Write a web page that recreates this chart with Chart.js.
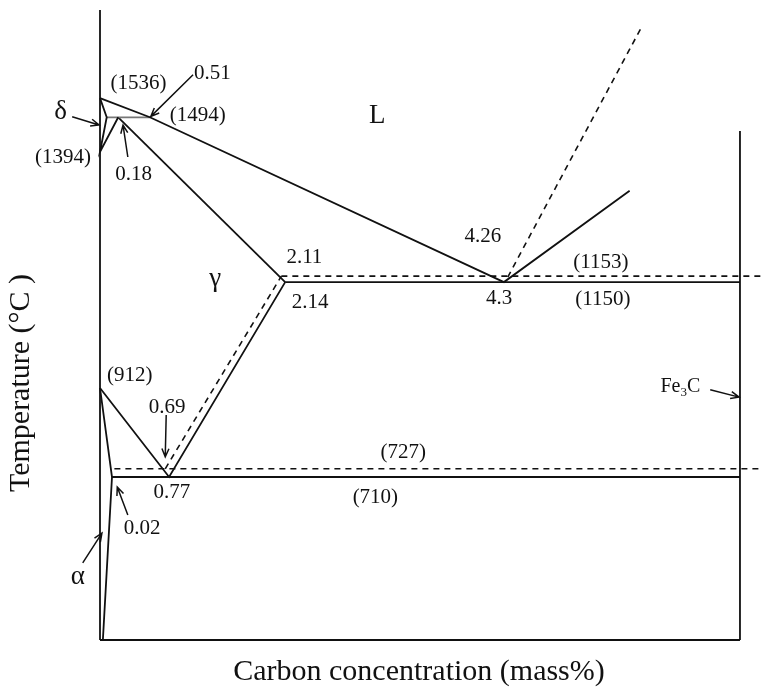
<!DOCTYPE html>
<html>
<head>
<meta charset="utf-8">
<script src="https://cdn.jsdelivr.net/npm/chart.js@4.4.0/dist/chart.umd.min.js"></script>
<style>
html, body { margin: 0; padding: 0; background: #fff; }
canvas { display: block; }
</style>
</head>
<body>
<canvas id="phaseChart" width="763" height="693"></canvas>
<script>
// phase boundaries, points are [carbon mass%, temperature]
const pureIron = [[0, 1730], [0, 350]];
const baseLine = [[0, 350], [6.67, 350]];
const cementite = [[6.67, 1465], [6.67, 350]];
const liquidus = [[0, 1537], [0.52, 1495], [4.21, 1134], [5.52, 1334]];
const deltaField = [[0, 1537], [0.07, 1495], [0, 1419], [0.19, 1495]];
const peritectic = [[0.07, 1495], [0.52, 1495]];
const solidus = [[0.19, 1495], [1.93, 1134]];
const eutectic = [[1.93, 1134], [6.67, 1134]];
const gammaLower = [[0, 902], [0.72, 707], [1.93, 1134]];
const alphaLine = [[0, 902], [0.125, 707], [0.03, 350]];
const eutectoid = [[0.125, 707], [6.67, 707]];

// stable (graphite) system, dashed
const eutecticDash = [[1.89, 1147], [6.91, 1147]];
const eutectoidDash = [[0.15, 725], [6.91, 725]];
const acmDash = [[0.68, 725], [1.89, 1147]];
const graphiteDash = [[4.25, 1145], [5.64, 1691]];

// text labels: [text, x, y]
const labels = [
    ['(1536)', 0.40, 1570], ['0.51', 1.17, 1592], ['(1494)', 1.02, 1500],
    ['(1394)', -0.385, 1406], ['0.18', 0.35, 1369],
    ['2.11', 2.13, 1187], ['2.14', 2.19, 1090],
    ['4.26', 3.99, 1233], ['4.3', 4.16, 1099],
    ['(1153)', 5.22, 1178], ['(1150)', 5.24, 1095],
    ['(912)', 0.31, 930], ['0.69', 0.70, 860],
    ['(727)', 3.16, 760], ['0.77', 0.75, 674], ['(710)', 2.87, 663],
    ['0.02', 0.44, 595]
];
const phaseNames = [['δ', -0.41, 1507], ['L', 2.89, 1498], ['γ', 1.20, 1141], ['α', -0.23, 488]];

// arrows: [x0, y0, x1, y1], tail to head
const arrows = [
    [-0.29, 1496, -0.01, 1478],
    [0.97, 1588, 0.53, 1497],
    [0.29, 1408, 0.24, 1478],
    [0.69, 843, 0.68, 751],
    [0.29, 624, 0.18, 685],
    [-0.18, 519, 0.02, 584],
    [6.36, 898, 6.66, 882]
];

const xTitle = 'Carbon concentration (mass%)';
const yTitle = 'Temperature (°C )';

function line(points, dashed, color) {
    return {
        data: points.map(p => ({ x: p[0], y: p[1] })),
        showLine: true,
        pointRadius: 0,
        borderColor: color || '#111',
        borderWidth: dashed ? 1.6 : 1.8,
        borderDash: dashed ? [6, 5] : [],
        clip: false,
        tension: 0
    };
}

const annotate = {
    id: 'annotate',
    afterDraw(chart) {
        const c = chart.ctx;
        const xs = chart.scales.x, ys = chart.scales.y;
        const px = v => xs.getPixelForValue(v);
        const py = v => ys.getPixelForValue(v);
        c.save();
        c.fillStyle = '#111';
        c.strokeStyle = '#111';
        c.textAlign = 'center';
        c.textBaseline = 'middle';

        c.font = "21px 'Liberation Serif'";
        labels.forEach(l => c.fillText(l[0], px(l[1]), py(l[2])));

        c.font = "27px 'Liberation Serif'";
        phaseNames.forEach(l => c.fillText(l[0], px(l[1]), py(l[2])));

        // Fe3C with subscript
        c.font = "20px 'Liberation Serif'";
        c.textAlign = 'left';
        let fx = px(6.07) - 22, fy = py(904);
        c.fillText('Fe', fx, fy);
        fx += c.measureText('Fe').width;
        c.font = "13px 'Liberation Serif'";
        c.fillText('3', fx, fy + 5);
        fx += c.measureText('3').width;
        c.font = "20px 'Liberation Serif'";
        c.fillText('C', fx, fy);

        c.lineWidth = 1.5;
        arrows.forEach(a => {
            const x0 = px(a[0]), y0 = py(a[1]), x1 = px(a[2]), y1 = py(a[3]);
            const ang = Math.atan2(y1 - y0, x1 - x0);
            c.beginPath();
            c.moveTo(x0, y0);
            c.lineTo(x1, y1);
            c.moveTo(x1 - 9 * Math.cos(ang - 0.4), y1 - 9 * Math.sin(ang - 0.4));
            c.lineTo(x1, y1);
            c.lineTo(x1 - 9 * Math.cos(ang + 0.4), y1 - 9 * Math.sin(ang + 0.4));
            c.stroke();
        });

        // axis titles
        c.font = "30px 'Liberation Serif'";
        c.textAlign = 'center';
        c.fillText(xTitle, 419, 672);
        c.translate(21, 383);
        c.rotate(-Math.PI / 2);
        c.fillText(yTitle, 0, 0);
        c.restore();
    }
};

const config = {
    type: 'scatter',
    data: {
        datasets: [
            line(pureIron), line(baseLine), line(cementite),
            line(liquidus), line(deltaField), line(peritectic, false, '#777'),
            line(solidus), line(eutectic), line(gammaLower),
            line(alphaLine), line(eutectoid),
            line(eutecticDash, true), line(eutectoidDash, true),
            line(acmDash, true), line(graphiteDash, true)
        ]
    },
    options: {
        responsive: false,
        animation: false,
        layout: { padding: { left: 100, top: 10, right: 0, bottom: 53 } },
        plugins: { legend: { display: false }, tooltip: { enabled: false } },
        scales: {
            x: { type: 'linear', min: 0, max: 6.91, display: false },
            y: { type: 'linear', min: 350, max: 1730, display: false }
        }
    },
    plugins: [annotate]
};

new Chart(document.getElementById('phaseChart').getContext('2d'), config);
</script>
</body>
</html>
